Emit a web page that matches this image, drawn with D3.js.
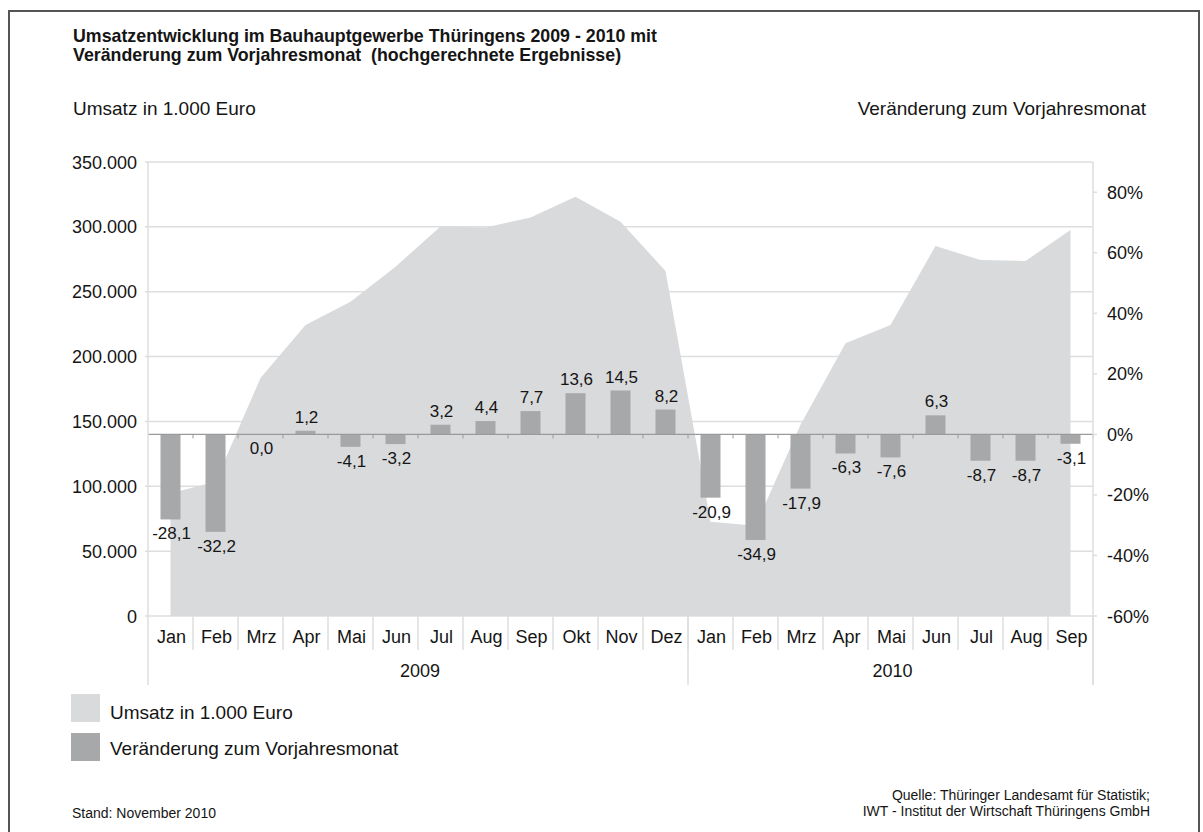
<!DOCTYPE html>
<html>
<head>
<meta charset="utf-8">
<script src="https://cdn.jsdelivr.net/npm/d3@7"></script>
<style>
    body { margin: 0; background: #fff; }
    text { font-family: "Liberation Sans", Arial, sans-serif; fill: #151515; }
    .title { font-weight: bold; font-size: 17.8px; }
    .axisLabel { font-size: 19px; }
    .tick-label { font-size: 18px; }
    .month { font-size: 18px; }
    .barLabel { font-size: 17px; }
    .legend { font-size: 19px; }
    .small { font-size: 14px; }
</style>
</head>
<body>
<svg id="chart"></svg>
<script>
// Daten
var months = ["Jan", "Feb", "Mrz", "Apr", "Mai", "Jun", "Jul", "Aug", "Sep", "Okt", "Nov", "Dez",
    "Jan", "Feb", "Mrz", "Apr", "Mai", "Jun", "Jul", "Aug", "Sep"];
var years = ["2009", "2010"];
var monthsPerYear = [12, 9];
var umsatz = [94600, 103500, 183500, 224300, 242300, 269300, 300300, 299600, 307300, 323200, 304000, 266000,
    72700, 69600, 147500, 210200, 224300, 285200, 274400, 273700, 297600];
var veraenderung = [-28.1, -32.2, 0.0, 1.2, -4.1, -3.2, 3.2, 4.4, 7.7, 13.6, 14.5, 8.2,
    -20.9, -34.9, -17.9, -6.3, -7.6, 6.3, -8.7, -8.7, -3.1];
var leftTicks = [0, 50000, 100000, 150000, 200000, 250000, 300000, 350000];
var rightTicks = [-60, -40, -20, 0, 20, 40, 60, 80];

var W = 1203, H = 832;
var margin = { top: 162, right: 110, bottom: 216, left: 148 };
var width = W - margin.left - margin.right;   // 945
var height = H - margin.top - margin.bottom;  // 454

var de = d3.formatLocale({ decimal: ",", thousands: ".", grouping: [3], currency: ["", " €"], minus: "-" });
var fmtThousands = de.format(",.0f");
var fmtOne = de.format(".1f");

var root = d3.select('#chart')
    .attr('width', W)
    .attr('height', H);

// Rahmen
root.append('rect')
    .attr('x', 9).attr('y', 11)
    .attr('width', 1190).attr('height', 840)
    .attr('fill', 'none')
    .attr('stroke', '#555')
    .attr('stroke-width', 2);

// Titel
root.append('text').classed('title', true)
    .attr('x', 73).attr('y', 42)
    .text('Umsatzentwicklung im Bauhauptgewerbe Thüringens 2009 - 2010 mit');
root.append('text').classed('title', true)
    .attr('x', 73).attr('y', 61)
    .attr('xml:space', 'preserve')
    .text('Veränderung zum Vorjahresmonat  (hochgerechnete Ergebnisse)');

root.append('text').classed('axisLabel', true)
    .attr('x', 73).attr('y', 115)
    .text('Umsatz in 1.000 Euro');
root.append('text').classed('axisLabel', true)
    .attr('x', 1146).attr('y', 115)
    .style('text-anchor', 'end')
    .text('Veränderung zum Vorjahresmonat');

var svg = root.append('g')
    .attr('transform', `translate(${margin.left}, ${margin.top})`);

// Skalen
var xScale = d3.scaleBand()
    .domain(d3.range(months.length))
    .range([0, width])
    .paddingInner(0).paddingOuter(0);
var yLeft = d3.scaleLinear()
    .domain([0, 350000])
    .range([height, 0]);
var yRight = d3.scaleLinear()
    .domain([-60, 90])
    .range([height, 0]);

var gridColor = '#dedede';

// Gitterlinien + linke Achse
svg.append('g')
    .selectAll('line')
    .data(leftTicks)
    .enter().append('line')
    .attr('x1', -3).attr('x2', width)
    .attr('y1', d => yLeft(d)).attr('y2', d => yLeft(d))
    .attr('stroke', gridColor)
    .attr('stroke-width', 1.5);

svg.append('g')
    .selectAll('text')
    .data(leftTicks)
    .enter().append('text')
    .classed('tick-label', true)
    .attr('x', -11)
    .attr('y', d => yLeft(d) + 6.5)
    .style('text-anchor', 'end')
    .text(d => fmtThousands(d));

// Fläche Umsatz
var area = d3.area()
    .x((d, i) => xScale(i) + xScale.bandwidth() / 2)
    .y0(yLeft(0))
    .y1(d => yLeft(d));

svg.append('path')
    .attr('d', area(umsatz))
    .attr('fill', '#d9dadc');

// Balken Veränderung
var barW = 20;
svg.append('g')
    .selectAll('rect')
    .data(veraenderung)
    .enter().append('rect')
    .attr('x', (d, i) => xScale(i) + xScale.bandwidth() / 2 - barW / 2)
    .attr('width', barW)
    .attr('y', d => yRight(Math.max(0, d)))
    .attr('height', d => Math.abs(yRight(d) - yRight(0)))
    .attr('fill', '#a7a8aa');

// Nulllinie mit Teilstrichen
svg.append('line')
    .attr('x1', 0).attr('x2', width)
    .attr('y1', yRight(0)).attr('y2', yRight(0))
    .attr('stroke', '#9a9a9a')
    .attr('stroke-width', 1.2);
svg.append('g')
    .selectAll('line')
    .data(d3.range(1, months.length + 1))
    .enter().append('line')
    .attr('x1', d => xScale.step() * d).attr('x2', d => xScale.step() * d)
    .attr('y1', yRight(0)).attr('y2', yRight(0) + 4)
    .attr('stroke', '#9a9a9a');

// Balkenbeschriftung
svg.append('g')
    .selectAll('text')
    .data(veraenderung)
    .enter().append('text')
    .classed('barLabel', true)
    .attr('x', (d, i) => xScale(i) + xScale.bandwidth() / 2 + 1)
    .attr('y', d => d > 0 ? yRight(d) - 8 : yRight(d) + 20)
    .style('text-anchor', 'middle')
    .text(d => fmtOne(d));

// Achsenlinien
svg.append('line')
    .attr('x1', 0).attr('x2', 0)
    .attr('y1', 0).attr('y2', height + 69)
    .attr('stroke', gridColor).attr('stroke-width', 1.5);
svg.append('line')
    .attr('x1', width).attr('x2', width)
    .attr('y1', 0).attr('y2', height + 69)
    .attr('stroke', gridColor).attr('stroke-width', 1.5);

// rechte Achse
svg.append('g')
    .selectAll('line')
    .data(rightTicks)
    .enter().append('line')
    .attr('x1', width).attr('x2', width + 4)
    .attr('y1', d => yRight(d)).attr('y2', d => yRight(d))
    .attr('stroke', gridColor).attr('stroke-width', 1.5);
svg.append('g')
    .selectAll('text')
    .data(rightTicks)
    .enter().append('text')
    .classed('tick-label', true)
    .attr('x', width + 14)
    .attr('y', d => yRight(d) + 6.5)
    .text(d => (d < 0 ? '-' : '') + Math.abs(d) + '%');

// x-Achse: Monate
svg.append('g')
    .selectAll('line')
    .data(d3.range(1, months.length))
    .enter().append('line')
    .attr('x1', d => xScale.step() * d).attr('x2', d => xScale.step() * d)
    .attr('y1', height).attr('y2', height + 34)
    .attr('stroke', gridColor).attr('stroke-width', 1.5);

svg.append('g')
    .selectAll('text')
    .data(months)
    .enter().append('text')
    .classed('month', true)
    .attr('x', (d, i) => xScale(i) + xScale.bandwidth() / 2 + 1)
    .attr('y', height + 27)
    .style('text-anchor', 'middle')
    .text(d => d);

// Jahre
var start = 0;
years.forEach(function (y, k) {
    var x0 = xScale.step() * start;
    var x1 = xScale.step() * (start + monthsPerYear[k]);
    svg.append('line')
        .attr('x1', x1).attr('x2', x1)
        .attr('y1', height).attr('y2', height + 69)
        .attr('stroke', gridColor).attr('stroke-width', 1.5);
    svg.append('text')
        .classed('month', true)
        .attr('x', (x0 + x1) / 2 + 2)
        .attr('y', height + 61)
        .style('text-anchor', 'middle')
        .text(y);
    start += monthsPerYear[k];
});

// Legende
var legendItems = [
    { label: 'Umsatz in 1.000 Euro', color: '#d9dadc' },
    { label: 'Veränderung zum Vorjahresmonat', color: '#a7a8aa' }
];
legendItems.forEach(function (d, i) {
    root.append('rect')
        .attr('x', 71).attr('y', 694 + i * 39)
        .attr('width', 29).attr('height', 28)
        .attr('fill', d.color);
    root.append('text')
        .classed('legend', true)
        .attr('x', 110).attr('y', 719 + i * 36)
        .text(d.label);
});

// Fußnoten
root.append('text').classed('small', true)
    .attr('x', 72).attr('y', 818)
    .text('Stand: November 2010');
root.append('text').classed('small', true)
    .attr('x', 1150).attr('y', 800)
    .style('text-anchor', 'end')
    .text('Quelle: Thüringer Landesamt für Statistik;');
root.append('text').classed('small', true)
    .attr('x', 1150).attr('y', 816)
    .style('text-anchor', 'end')
    .text('IWT - Institut der Wirtschaft Thüringens GmbH');
</script>
</body>
</html>
